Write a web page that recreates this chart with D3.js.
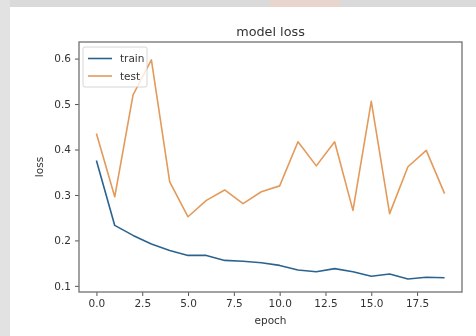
<!DOCTYPE html>
<html><head><meta charset="utf-8">
<script src="https://cdn.jsdelivr.net/npm/d3@7"></script>
<style>html,body{margin:0;padding:0;background:#fff;}svg{display:block;}</style>
</head><body>
<svg id="chart" width="476" height="336"></svg>
<script>
const epochs = d3.range(0, 20);
const trainLoss = [0.376, 0.233, 0.211, 0.192, 0.178, 0.167, 0.167, 0.156, 0.154, 0.151,
                   0.145, 0.135, 0.131, 0.138, 0.131, 0.121, 0.126, 0.115, 0.119, 0.118];
const testLoss  = [0.435, 0.296, 0.520, 0.597, 0.329, 0.252, 0.288, 0.311, 0.281, 0.307,
                   0.320, 0.417, 0.364, 0.417, 0.266, 0.506, 0.259, 0.362, 0.398, 0.303];
const xTicks = [0, 2.5, 5, 7.5, 10, 12.5, 15, 17.5];
const yTicks = [0.1, 0.2, 0.3, 0.4, 0.5, 0.6];
const seriesNames = ["train", "test"];
const colors = ["#2c6490", "#e39a5a"];

const svg = d3.select("#chart");
const W = 476, H = 336;
const font = "DejaVu Sans, sans-serif";

// background frame (photo-like border)
svg.append("rect").attr("x",0).attr("y",0).attr("width",W).attr("height",H).attr("fill","#ffffff");
svg.append("rect").attr("x",0).attr("y",0).attr("width",W).attr("height",7).attr("fill","#dadada");
svg.append("rect").attr("x",0).attr("y",0).attr("width",10).attr("height",H).attr("fill","#e2e2e2");
svg.append("rect").attr("x",270).attr("y",0).attr("width",70).attr("height",7).attr("fill","#e8d6ce");

const defs = svg.append("defs");
defs.append("filter").attr("id","blur").append("feGaussianBlur").attr("stdDeviation",0.45);

const g = svg.append("g").attr("filter","url(#blur)");

const pL = 79, pR = 462, pT = 42, pB = 292;
const x = d3.scaleLinear().domain([-0.95, 19.95]).range([pL, pR]);
const y = d3.scaleLinear().domain([0.0865, 0.6365]).range([pB, pT]);

// axes
const xAxis = d3.axisBottom(x).tickValues(xTicks).tickFormat(d3.format(".1f")).tickSize(4).tickPadding(4);
const yAxis = d3.axisLeft(y).tickValues(yTicks).tickFormat(d3.format(".1f")).tickSize(4).tickPadding(4);

const gx = g.append("g").attr("transform", `translate(0,${pB})`).call(xAxis);
const gy = g.append("g").attr("transform", `translate(${pL},0)`).call(yAxis);
[gx, gy].forEach(a => {
  a.select(".domain").remove();
  a.selectAll(".tick line").attr("stroke", "#555").attr("stroke-width", 1);
  a.selectAll(".tick text").attr("fill", "#333").style("font-family", font).style("font-size", "10.5px");
});

// lines
const line = d3.line().x((d, i) => x(epochs[i])).y(d => y(d));
[trainLoss, testLoss].forEach((s, k) => {
  g.append("path").datum(s).attr("d", line).attr("fill", "none")
    .attr("stroke", colors[k]).attr("stroke-width", 1.6).attr("stroke-linejoin", "round");
});

// frame
g.append("rect").attr("x", pL).attr("y", pT).attr("width", pR - pL).attr("height", pB - pT)
  .attr("fill", "none").attr("stroke", "#707070").attr("stroke-width", 1.3);

// legend
const lg = g.append("g");
lg.append("rect").attr("x", 83).attr("y", 47).attr("width", 64).attr("height", 40).attr("rx", 2)
  .attr("fill", "#fff").attr("fill-opacity", 0.8).attr("stroke", "#ccc").attr("stroke-width", 0.8);
seriesNames.forEach((n, k) => {
  const yy = 58.5 + k * 17.5;
  lg.append("line").attr("x1", 88).attr("x2", 112).attr("y1", yy).attr("y2", yy)
    .attr("stroke", colors[k]).attr("stroke-width", 1.6);
  lg.append("text").attr("x", 120).attr("y", yy).attr("dy", "0.35em").text(n)
    .attr("fill", "#333").style("font-family", font).style("font-size", "10.5px");
});

// title and labels
g.append("text").attr("x", (pL + pR) / 2).attr("y", 32).attr("dy", "0.35em").attr("text-anchor", "middle")
  .text("model loss").attr("fill", "#333").style("font-family", font).style("font-size", "12.8px");
g.append("text").attr("x", (pL + pR) / 2).attr("y", 320).attr("dy", "0.35em").attr("text-anchor", "middle")
  .text("epoch").attr("fill", "#333").style("font-family", font).style("font-size", "10.5px");
g.append("text").attr("transform", `translate(39,${(pT + pB) / 2}) rotate(-90)`).attr("dy", "0.35em")
  .attr("text-anchor", "middle").text("loss").attr("fill", "#333").style("font-family", font).style("font-size", "10.5px");
</script>
</body></html>
